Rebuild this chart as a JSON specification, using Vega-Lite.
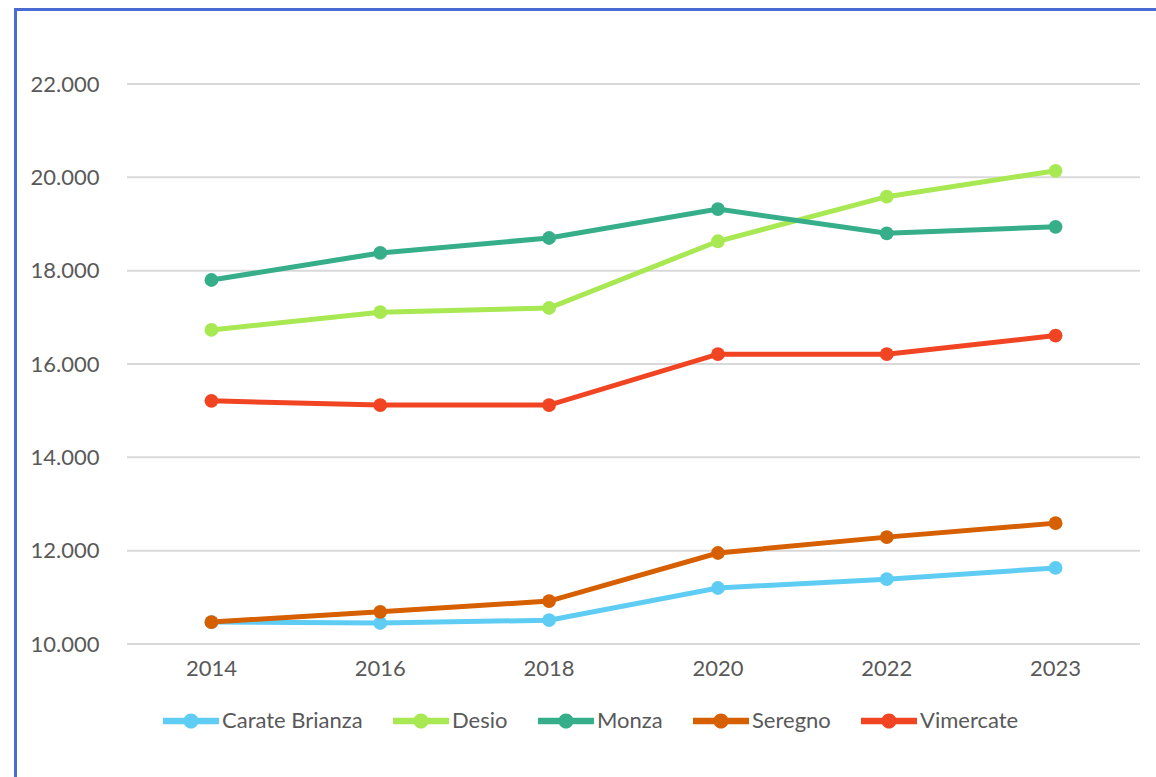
{
  "$schema": "https://vega.github.io/schema/vega-lite/v6.json",
  "width": 1150,
  "height": 790,
  "autosize": "none",
  "padding": {"left": 15.5, "top": 9.5, "right": 0, "bottom": 0},
  "background": "white",
  "config": {
    "view": {"stroke": "#4A6BD3", "strokeWidth": 3},
    "font": "Lato",
    "locale": {"number": {"decimal": ",", "thousands": ".", "grouping": [3], "currency": ["€", ""]}}
  },
  "datasets": {
    "series": [
      {"year": "2014", "city": "Carate Brianza", "value": 10470},
      {"year": "2016", "city": "Carate Brianza", "value": 10450},
      {"year": "2018", "city": "Carate Brianza", "value": 10510},
      {"year": "2020", "city": "Carate Brianza", "value": 11200},
      {"year": "2022", "city": "Carate Brianza", "value": 11390},
      {"year": "2023", "city": "Carate Brianza", "value": 11630},
      {"year": "2014", "city": "Desio", "value": 16730},
      {"year": "2016", "city": "Desio", "value": 17110},
      {"year": "2018", "city": "Desio", "value": 17200},
      {"year": "2020", "city": "Desio", "value": 18630},
      {"year": "2022", "city": "Desio", "value": 19585},
      {"year": "2023", "city": "Desio", "value": 20140},
      {"year": "2014", "city": "Monza", "value": 17800},
      {"year": "2016", "city": "Monza", "value": 18380},
      {"year": "2018", "city": "Monza", "value": 18700},
      {"year": "2020", "city": "Monza", "value": 19320},
      {"year": "2022", "city": "Monza", "value": 18800},
      {"year": "2023", "city": "Monza", "value": 18940},
      {"year": "2014", "city": "Seregno", "value": 10470},
      {"year": "2016", "city": "Seregno", "value": 10690},
      {"year": "2018", "city": "Seregno", "value": 10920},
      {"year": "2020", "city": "Seregno", "value": 11950},
      {"year": "2022", "city": "Seregno", "value": 12290},
      {"year": "2023", "city": "Seregno", "value": 12590},
      {"year": "2014", "city": "Vimercate", "value": 15210},
      {"year": "2016", "city": "Vimercate", "value": 15120},
      {"year": "2018", "city": "Vimercate", "value": 15120},
      {"year": "2020", "city": "Vimercate", "value": 16210},
      {"year": "2022", "city": "Vimercate", "value": 16210},
      {"year": "2023", "city": "Vimercate", "value": 16610}
    ],
    "grid": [
      {"v": 10000}, {"v": 12000}, {"v": 14000}, {"v": 16000}, {"v": 18000}, {"v": 20000}, {"v": 22000}
    ]
  },
  "layer": [
    {
      "data": {"name": "grid"},
      "mark": {"type": "rule", "color": "#D9D9D9", "strokeWidth": 2},
      "encoding": {
        "y": {
          "field": "v",
          "type": "quantitative",
          "scale": {"domain": [10000, 22000], "range": [634.5, 74.5], "nice": false, "zero": false},
          "axis": {
            "orient": "left",
            "title": null,
            "values": [10000, 12000, 14000, 16000, 18000, 20000, 22000],
            "format": ",.0f",
            "grid": false,
            "domain": false,
            "ticks": false,
            "tickSize": 0,
            "labelPadding": -83.5,
            "labelAlign": "right",
            "labelFontSize": 22,
            "labelColor": "#595959"
          }
        },
        "x": {"datum": "2014", "type": "ordinal", "bandPosition": 0},
        "x2": {"datum": "2023", "bandPosition": 1}
      }
    },
    {
      "data": {"name": "series"},
      "mark": {"type": "line", "strokeWidth": 5, "point": {"filled": true, "size": 190, "opacity": 1}},
      "encoding": {
        "x": {
          "field": "year",
          "type": "ordinal",
          "scale": {"type": "band", "range": [111.5, 1124.5], "paddingInner": 0, "paddingOuter": 0},
          "axis": {
            "orient": "bottom",
            "title": null,
            "offset": -155.5,
            "domain": false,
            "ticks": false,
            "tickSize": 0,
            "grid": false,
            "labelAngle": 0,
            "labelAlign": "center",
            "bandPosition": 0.5,
            "labelPadding": 24,
            "labelFontSize": 22,
            "labelColor": "#595959"
          }
        },
        "y": {"field": "value", "type": "quantitative"},
        "color": {
          "field": "city",
          "type": "nominal",
          "scale": {
            "domain": ["Carate Brianza", "Desio", "Monza", "Seregno", "Vimercate"],
            "range": ["#5FCDF3", "#A8E852", "#36AE8A", "#D66000", "#F04423"]
          },
          "legend": {
            "title": null,
            "orient": "none",
            "direction": "horizontal",
            "legendX": 147.5,
            "legendY": 683.5,
            "symbolType": "M-1,-0.12 L1,-0.12 L1,0.12 L-1,0.12 Z M-0.27,0 A0.27,0.27 0 1,1 0.27,0 A0.27,0.27 0 1,1 -0.27,0 Z",
            "symbolSize": 3136,
            "symbolStrokeWidth": 0,
            "labelFontSize": 22,
            "labelColor": "#595959",
            "labelOffset": 3,
            "columnPadding": 30,
            "encode": {
              "symbols": {
                "update": {
                  "fill": {"scale": "color", "field": "value"},
                  "stroke": {"value": "transparent"},
                  "strokeWidth": {"value": 0},
                  "opacity": {"value": 1}
                }
              }
            }
          }
        }
      }
    }
  ]
}
